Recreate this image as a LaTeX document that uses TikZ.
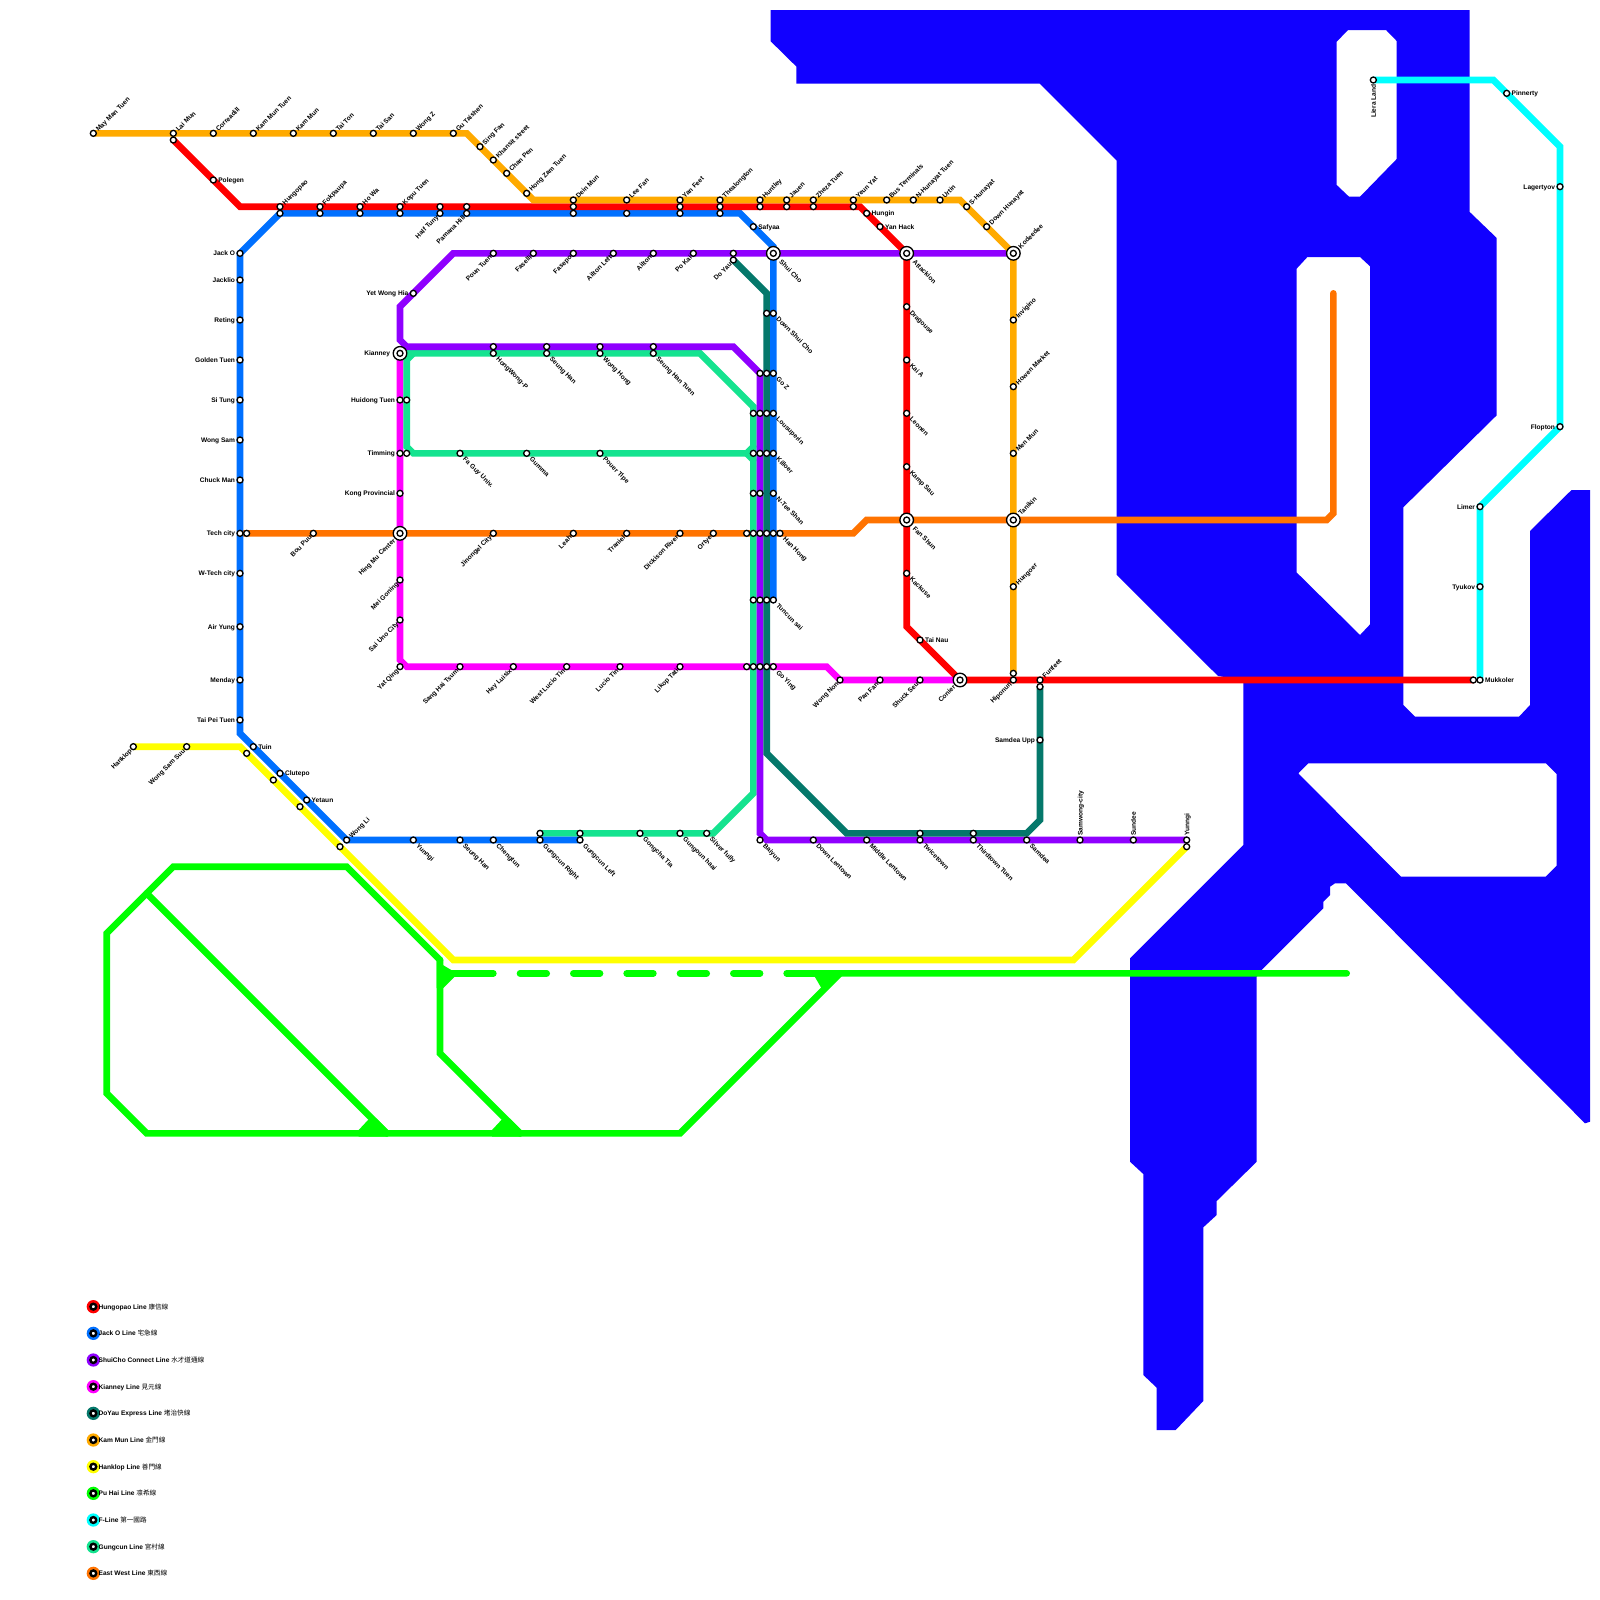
\documentclass[tikz,border=0pt]{standalone}
\usepackage{fontspec}
\setmainfont{Liberation Sans}
\newfontfamily\cjk{Noto Sans CJK TC}
\pgfdeclarelayer{bg}
\pgfsetlayers{bg,main}
\definecolor{cRed}{HTML}{FF0000}
\definecolor{cBlue}{HTML}{0070FF}
\definecolor{cPurple}{HTML}{8F00FF}
\definecolor{cMag}{HTML}{FF00FF}
\definecolor{cTeal}{HTML}{05786B}
\definecolor{cGold}{HTML}{FFAA00}
\definecolor{cYel}{HTML}{FFFF00}
\definecolor{cGrn}{HTML}{00FF00}
\definecolor{cCyan}{HTML}{00FFFF}
\definecolor{cMint}{HTML}{14E38F}
\definecolor{cOrg}{HTML}{FF7300}
\definecolor{cWater}{HTML}{1100FF}
\tikzset{
 stdot/.style={circle,draw=black,fill=white,line width=1.33pt,inner sep=0pt,outer sep=0pt,minimum size=6pt},
 xring/.style={circle,draw=black,fill=white,line width=1.33pt,inner sep=0pt,outer sep=0pt,minimum size=13.6pt},
 lbase/.style={inner sep=0pt,outer sep=0pt,text=black,font=\fontsize{6.6}{7}\selectfont\bfseries},
 lblne/.style={xshift=3.3pt,yshift=3.3pt,rotate=45,lbase,anchor=mid west},
 lblse/.style={xshift=4.5pt,yshift=-4.5pt,rotate=-45,lbase,anchor=mid west},
 lblsw/.style={xshift=-2.9pt,yshift=-2.9pt,rotate=45,lbase,anchor=mid east},
 lble/.style={xshift=5pt,lbase,anchor=mid west},
 lblw/.style={xshift=-5pt,lbase,anchor=mid east},
 lbln/.style={yshift=4.5pt,rotate=90,lbase,anchor=mid west},
 lbls/.style={yshift=-4.5pt,rotate=90,lbase,anchor=mid east},
 lblneI/.style={xshift=6pt,yshift=6pt,rotate=45,lbase,anchor=mid west},
 lblseI/.style={xshift=7.5pt,yshift=-7.5pt,rotate=-45,lbase,anchor=mid west},
 lblswI/.style={xshift=-6pt,yshift=-6pt,rotate=45,lbase,anchor=mid east},
 lblwI/.style={xshift=-10pt,lbase,anchor=mid east},
 mline/.style={line width=6.67pt,line cap=round,line join=miter},
 legdisc/.style={circle,inner sep=0pt,outer sep=0pt,minimum size=13.3pt},
 legdot/.style={circle,draw=black,fill=white,line width=2.4pt,inner sep=0pt,outer sep=0pt,minimum size=5.8pt},
 legtext/.style={lbase,anchor=mid west}
}
\newcommand{\stn}[5]{\node[stdot] (#1) at (#2,#3) {}; \node[lbl#4] (#1L) at (#1.center) {#5};}
\newcommand{\sta}[3]{\node[stdot] (#1) at (#2,#3) {};}
\newcommand{\xch}[5]{\node[xring] (#1X) at (#2,#3) {}; \node[stdot] (#1) at (#2,#3) {}; \node[lbl#4I] (#1L) at (#1.center) {#5};}
\newcommand{\lgd}[5]{\node[legdisc,fill=#3] (#1D) at (7,#2) {}; \node[legdot] (#1O) at (7,#2) {}; \node[legtext] (#1T) at (7.4,#2) {#4 {\cjk\mdseries #5}};}
\begin{document}
\begin{tikzpicture}[x=13.3333pt,y=-13.3333pt]
\useasboundingbox (0,0) rectangle (120,120);
% gold
\stn{g1}{7}{10}{ne}{May Man Tuen}
\stn{g2}{13}{10}{ne}{Lai Mun}
\stn{g3}{16}{10}{ne}{Correadill}
\stn{g4}{19}{10}{ne}{Kam Mun Tuen}
\stn{g5}{22}{10}{ne}{Kam Mun}
\stn{g6}{25}{10}{ne}{Tai Ton}
\stn{g7}{28}{10}{ne}{Tai San}
\stn{g8}{31}{10}{ne}{Wong Z}
\stn{g9}{34}{10}{ne}{Gu Taishen}
\stn{g10}{36}{11}{ne}{Sing Fan}
\stn{g11}{37}{12}{ne}{Khansit street}
\stn{g12}{38}{13}{ne}{Chan Pen}
\stn{g13}{39.5}{14.5}{ne}{Hong Zam Tuen}
\stn{g14}{43}{15}{ne}{Dein Mun}
\stn{g15}{47}{15}{ne}{Lee Fan}
\stn{g16}{51}{15}{ne}{Yan Feet}
\stn{g17}{54}{15}{ne}{Thealongton}
\stn{g18}{57}{15}{ne}{Huntley}
\stn{g19}{59}{15}{ne}{Jauen}
\stn{g20}{61}{15}{ne}{Zheza Tuen}
\stn{g21}{64}{15}{ne}{Yeun Yat}
\stn{g22}{66.5}{15}{ne}{Bus Terminals}
\stn{g23}{68.5}{15}{ne}{N-Hunayat Tuen}
\stn{g24}{70.5}{15}{ne}{Urtin}
\stn{g25}{72.5}{15.5}{ne}{S-Hunayat}
\stn{g26}{74}{17}{ne}{Down Hunayat}
\xch{kode}{76}{19}{ne}{Kodeedee}
\stn{g27}{76}{24}{ne}{Invigino}
\stn{g28}{76}{29}{ne}{Howen Market}
\stn{g29}{76}{34}{ne}{Men Mun}
\xch{tani}{76}{39}{ne}{Tanikin}
\stn{g30}{76}{44}{ne}{Hungoer}
\sta{g31}{76}{50.5}
% red
\sta{r1}{13}{10.5}
\stn{r2}{16}{13.5}{e}{Polegen}
\stn{r3}{21}{15.5}{ne}{Hungopao}
\stn{r4}{24}{15.5}{ne}{Fokpaupa}
\stn{r5}{27}{15.5}{ne}{Ho Wa}
\stn{r6}{30}{15.5}{ne}{Kopu Tuen}
\sta{r7}{33}{15.5}
\sta{r8}{35}{15.5}
\sta{r9}{43}{15.5}
\sta{r10}{51}{15.5}
\sta{r11}{54}{15.5}
\sta{r12}{57}{15.5}
\sta{r13}{59}{15.5}
\sta{r14}{61}{15.5}
\sta{r15}{64}{15.5}
\stn{r16}{65}{16}{e}{Hungin}
\stn{r17}{66}{17}{e}{Yan Hack}
\xch{atta}{68}{19}{se}{Attackion}
\stn{r18}{68}{23}{se}{Dragouse}
\stn{r19}{68}{27}{se}{Kai A}
\stn{r20}{68}{31}{se}{Leonen}
\stn{r21}{68}{35}{se}{Kamp Sau}
\xch{fans}{68}{39}{se}{Fan Shun}
\stn{r22}{68}{43}{se}{Kackuse}
\stn{r23}{69}{48}{e}{Tai Nau}
\xch{coni}{72}{51}{sw}{Conier}
\stn{r24}{76}{51}{sw}{Hiponuri}
\stn{r25}{78}{51}{ne}{Funfeet}
\sta{r26}{110.5}{51}
% blue
\sta{b1}{21}{16}
\sta{b2}{24}{16}
\sta{b3}{27}{16}
\sta{b4}{30}{16}
\stn{b5}{33}{16}{sw}{Half Tuny}
\stn{b6}{35}{16}{sw}{Pamana Hill}
\sta{b7}{43}{16}
\sta{b8}{47}{16}
\sta{b9}{51}{16}
\sta{b10}{54}{16}
\stn{b11}{56.5}{17}{e}{Safyaa}
\xch{shui}{58}{19}{se}{Shui Cho}
\stn{b12}{58}{23.5}{se}{Down Shui Cho}
\stn{b13}{58}{28}{se}{Go Z}
\stn{b14}{58}{31}{se}{Lousuperin}
\stn{b15}{58}{34}{se}{Killoer}
\stn{b16}{58}{37}{se}{N-Tee Shan}
\sta{b17}{58}{40}
\stn{b18}{58}{45}{se}{Tuncun sai}
\stn{j1}{18}{19}{w}{Jack O}
\stn{j2}{18}{21}{w}{Jacklio}
\stn{j3}{18}{24}{w}{Reting}
\stn{j4}{18}{27}{w}{Golden Tuen}
\stn{j5}{18}{30}{w}{Si Tung}
\stn{j6}{18}{33}{w}{Wong Sam}
\stn{j7}{18}{36}{w}{Chuck Man}
\stn{j8}{18}{40}{w}{Tech city}
\stn{j9}{18}{43}{w}{W-Tech city}
\stn{j10}{18}{47}{w}{Air Yung}
\stn{j11}{18}{51}{w}{Menday}
\stn{j12}{18}{54}{w}{Tai Pei Tuen}
\stn{j13}{19}{56}{e}{Tuin}
\stn{j14}{21}{58}{e}{Clutepo}
\stn{j15}{23}{60}{e}{Yetaun}
\stn{j16}{26}{63}{ne}{Wong Li}
\stn{j17}{31}{63}{se}{Yunngi}
\stn{j18}{34.5}{63}{se}{Seung Han}
\stn{j19}{37}{63}{se}{Chengtun}
\stn{j20}{40.5}{63}{se}{Gungcun Right}
\stn{j21}{43.5}{63}{se}{Gungcun Left}
% mint
\sta{m1}{40.5}{62.5}
\sta{m2}{43.5}{62.5}
\stn{m3}{48}{62.5}{se}{Gongcha Tia}
\stn{m4}{51}{62.5}{se}{Gungoun haai}
\stn{m5}{53}{62.5}{se}{Silver fully}
\sta{m6}{30.5}{30}
\sta{m7}{30.5}{34}
\stn{m8}{34.5}{34}{se}{Fa Guy Univ.}
\stn{m9}{39.5}{34}{se}{Gumma}
\stn{m10}{45}{34}{se}{Pouer Tipe}
\sta{m11}{56.5}{31}
\sta{m12}{56.5}{34}
\sta{m13}{56.5}{37}
\sta{m14}{56.5}{40}
\sta{m15}{56.5}{45}
\sta{m16}{56.5}{50}
\sta{m17}{37}{26.5}
\sta{m18}{41}{26.5}
\sta{m19}{45}{26.5}
\sta{m20}{49}{26.5}
% purple
\stn{p1}{31}{22}{w}{Yet Wong Hia}
\stn{p2}{37}{19}{sw}{Poun Tuen}
\stn{p3}{40}{19}{sw}{Faselli}
\stn{p4}{43}{19}{sw}{Fasepo}
\stn{p5}{46}{19}{sw}{Ailton Left}
\stn{p6}{49}{19}{sw}{Ailton}
\stn{p7}{52}{19}{sw}{Po Kai}
\sta{p8}{55}{19}
\sta{p9}{37}{26}
\sta{p10}{41}{26}
\sta{p11}{45}{26}
\sta{p12}{49}{26}
\sta{p13}{57}{28}
\sta{p14}{57}{31}
\sta{p15}{57}{34}
\sta{p16}{57}{37}
\sta{p17}{57}{40}
\sta{p18}{57}{45}
\sta{p19}{57}{50}
\stn{p20}{57}{63}{se}{Baiyun}
\stn{p21}{61}{63}{se}{Down Lentown}
\stn{p22}{65}{63}{se}{Middle Lentown}
\stn{p23}{69}{63}{se}{Twicetown}
\stn{p24}{73}{63}{se}{Thirdtown Tuen}
\stn{p25}{77}{63}{se}{Samdea}
\stn{p26}{81}{63}{n}{Samwong-city}
\stn{p27}{85}{63}{n}{Sundee}
\stn{p28}{89}{63}{n}{Yunngi}
% labels that belong to the double stops
\node[lblse] (hwL) at (m17.center) {HongWong-P};
\node[lblse] (shL) at (m18.center) {Seung Han};
\node[lblse] (whL) at (m19.center) {Wong Hong};
\node[lblse] (stL) at (m20.center) {Seung Han Tuen};
% teal
\stn{t1}{55}{19.5}{sw}{Do Yau}
\sta{t2}{57.5}{23.5}
\sta{t3}{57.5}{28}
\sta{t4}{57.5}{31}
\sta{t5}{57.5}{34}
\sta{t6}{57.5}{40}
\sta{t7}{57.5}{45}
\sta{t8}{57.5}{50}
\sta{t9}{69}{62.5}
\sta{t10}{73}{62.5}
\stn{t11}{78}{55.5}{w}{Samdea Upp}
\sta{t12}{78}{51.5}
% magenta
\xch{kian}{30}{26.5}{w}{Kianney}
\stn{k1}{30}{30}{w}{Huidong Tuen}
\stn{k2}{30}{34}{w}{Timming}
\stn{k3}{30}{37}{w}{Kong Provincial}
\xch{hing}{30}{40}{sw}{Hing Mu Center}
\stn{k4}{30}{43.5}{sw}{Mei Goning}
\stn{k5}{30}{46.5}{sw}{Sai Uno City}
\stn{k6}{30}{50}{sw}{Yat Qing}
\stn{k7}{34.5}{50}{sw}{Sang Hai Tsum}
\stn{k8}{38.5}{50}{sw}{Hey Luisix}
\stn{k9}{42.5}{50}{sw}{West Lucio Tin}
\stn{k10}{46.5}{50}{sw}{Lucio Tin}
\stn{k11}{51}{50}{sw}{Likop Tati}
\sta{k12}{56}{50}
\stn{k13}{58}{50}{se}{Go Ying}
\stn{k14}{63}{51}{sw}{Wong Non}
\stn{k15}{66}{51}{sw}{Pan Fan}
\stn{k16}{69}{51}{sw}{Shuck Seu}
% east west
\sta{o1}{18.5}{40}
\stn{o2}{23.5}{40}{sw}{Bou Puu}
\stn{o3}{37}{40}{sw}{Jinongel City}
\stn{o4}{43}{40}{sw}{Leah}
\stn{o5}{47}{40}{sw}{Traniel}
\stn{o6}{51}{40}{sw}{Dickison River}
\stn{o7}{53.5}{40}{sw}{Ortye}
\sta{o8}{56}{40}
\stn{o9}{58.5}{40}{se}{Han Hong}
% yellow
\stn{y1}{10}{56}{sw}{Hanklop}
\stn{y2}{14}{56}{sw}{Wong Sam Suu}
\sta{y3}{18.5}{56.5}
\sta{y4}{20.5}{58.5}
\sta{y5}{22.5}{60.5}
\sta{y6}{25.5}{63.5}
\sta{y7}{89}{63.5}
% cyan
\stn{c1}{103}{6}{s}{Liera Land}
\stn{c2}{113}{7}{e}{Pinnerty}
\stn{c3}{117}{14}{w}{Lagertyov}
\stn{c4}{117}{32}{w}{Flopton}
\stn{c5}{111}{38}{w}{Limer}
\stn{c6}{111}{44}{w}{Tyukov}
\stn{c7}{111}{51}{e}{Mukkoler}
% legend
\lgd{la}{98}{cRed}{Hungopao Line}{康信線}
\lgd{lb}{100}{cBlue}{Jack O Line}{宅急線}
\lgd{lc}{102}{cPurple}{ShuiCho Connect Line}{水才道通線}
\lgd{ld}{104}{cMag}{Kianney Line}{見元線}
\lgd{le}{106}{cTeal}{DoYau Express Line}{堵治快線}
\lgd{lf}{108}{cGold}{Kam Mun Line}{金門線}
\lgd{lg}{110}{cYel}{Hanklop Line}{善門線}
\lgd{lh}{112}{cGrn}{Pu Hai Line}{凛希線}
\lgd{li}{114}{cCyan}{F-Line}{第一國路}
\lgd{lj}{116}{cMint}{Gungcun Line}{宮村線}
\lgd{lk}{118}{cOrg}{East West Line}{東西線}
% bends and free ends
\coordinate (gb1) at (35,10);
\coordinate (gb2) at (40,15);
\coordinate (gb3) at (72,15);
\coordinate (rb1) at (18,15.5);
\coordinate (rb2) at (64.5,15.5);
\coordinate (rb3) at (68,47);
\coordinate (bb1) at (55.5,16);
\coordinate (bb2) at (58,18.5);
\coordinate (bb3) at (18,55);
\coordinate (pb1) at (34,19);
\coordinate (pb2) at (30,23);
\coordinate (pb3) at (30,25.5);
\coordinate (pb4) at (30.5,26);
\coordinate (pb5) at (55,26);
\coordinate (pb6) at (57,62.5);
\coordinate (pb7) at (57.5,63);
\coordinate (mb1) at (52.5,26.5);
\coordinate (mb2) at (56.5,30.5);
\coordinate (mb3) at (56.5,59.5);
\coordinate (mb4) at (53.5,62.5);
\coordinate (mb5) at (31,26.5);
\coordinate (mb6) at (30.5,27);
\coordinate (mb7) at (30.5,33.5);
\coordinate (mb8) at (31,34);
\coordinate (mb9) at (56,34);
\coordinate (mb10) at (56.5,33.5);
\coordinate (mb11) at (56.5,34.5);
\coordinate (tb1) at (57.5,22);
\coordinate (tb2) at (57.5,56.5);
\coordinate (tb3) at (63.5,62.5);
\coordinate (tb4) at (77,62.5);
\coordinate (tb5) at (78,61.5);
\coordinate (kb1) at (30,49.5);
\coordinate (kb2) at (30.5,50);
\coordinate (kb3) at (62,50);
\coordinate (ob1) at (64,40);
\coordinate (ob2) at (65,39);
\coordinate (ob3) at (99.5,39);
\coordinate (ob4) at (100,38.5);
\coordinate (ob5) at (100,22);
\coordinate (yb1) at (18,56);
\coordinate (yb2) at (34,72);
\coordinate (yb3) at (80.5,72);
\coordinate (cb1) at (112,6);
\coordinate (cb2) at (117,11);
\coordinate (hb1) at (8,70);
\coordinate (hb2) at (13,65);
\coordinate (hb3) at (26,65);
\coordinate (hb4) at (33,72);
\coordinate (hb5) at (33,79);
\coordinate (hb6) at (39,85);
\coordinate (hb7) at (11,85);
\coordinate (hb8) at (8,82);
\coordinate (hb9) at (11,67);
\coordinate (hb10) at (29,85);
\coordinate (hb11) at (51,85);
\coordinate (hb12) at (63,73);
\coordinate (hb13) at (101,73);
\coordinate (hb14) at (33.5,73);
\coordinate (hb15) at (35,73);
\coordinate (hb16) at (59,73);
\begin{pgfonlayer}{bg}
\fill[white] (0,0) rectangle (120,120);
% water
\begin{scope}[x=1pt,y=-1pt]
\fill[cWater,even odd rule]
 (770.7,10) -- (770.7,41.3) -- (796.4,66.6) -- (796.4,83.6) -- (1039.6,83.6) -- (1116.7,160.7)
 -- (1116.7,574.8) -- (1218,676) -- (1243.3,680) -- (1243.3,845) -- (1130,958.3) -- (1130,1161.7)
 -- (1143.3,1174) -- (1143.3,1375) -- (1156.7,1387.7) -- (1156.7,1430) -- (1175.7,1430)
 -- (1203.3,1401) -- (1203.3,1227.3) -- (1216.7,1215) -- (1216.7,1201) -- (1256.7,1161.7)
 -- (1256.7,976.7) -- (1261.7,970) -- (1323.3,908.3) -- (1323.3,901.7) -- (1330,895) -- (1330,886.7)
 -- (1335,883.3) -- (1346,883.3) -- (1585,1123.3) -- (1590,1121.7) -- (1590,490) -- (1571.5,490)
 -- (1530,531) -- (1530,705) -- (1519,716.7) -- (1415,716.7) -- (1403.3,705) -- (1403.3,507.3)
 -- (1496.5,415.5) -- (1496.5,237.8) -- (1469.7,212) -- (1469.7,10) -- cycle
 (1336.7,41.7) -- (1348,30) -- (1386,30) -- (1396.7,41) -- (1396.7,159) -- (1360,196.7) -- (1349,196.7) -- (1336.7,185) -- cycle
 (1296.7,268.6) -- (1307.4,257) -- (1360,257) -- (1370,266.3) -- (1370,624.4) -- (1360,635) -- (1296.7,572.5) -- cycle
 (1298.3,773.3) -- (1308.3,763.3) -- (1546,763.3) -- (1556.7,774) -- (1556.7,865.7) -- (1545.7,876.7) -- (1401,876.7) -- cycle;
\end{scope}
% lines
\draw[mline,cOrg] (j8.center) -- (ob1) -- (ob2) -- (ob3) -- (ob4) -- (ob5);
\draw[mline,cMag] (kian.center) -- (kb1) -- (kb2) -- (kb3) -- (k14.center) -- (coni.center);
\draw[mline,cMint] (kian.center) -- (mb1) -- (mb2) -- (mb3) -- (mb4) -- (m1.center);
\draw[mline,cMint] (mb5) -- (mb6) -- (mb7) -- (mb8) -- (mb9) -- (mb10);
\draw[mline,cMint] (mb9) -- (mb11);
\draw[mline,cPurple] (kode.center) -- (pb1) -- (pb2) -- (pb3) -- (pb4) -- (pb5) -- (p13.center) -- (pb6) -- (pb7) -- (p28.center);
\draw[mline,cTeal] (t1.center) -- (tb1) -- (tb2) -- (tb3) -- (tb4) -- (tb5) -- (t12.center);
\draw[mline,cBlue] (j21.center) -- (j16.center) -- (bb3) -- (j1.center) -- (b1.center) -- (bb1) -- (bb2) -- (b18.center);
\draw[mline,cRed] (r1.center) -- (rb1) -- (rb2) -- (atta.center) -- (rb3) -- (coni.center) -- (r26.center);
\draw[mline,cGold] (g1.center) -- (gb1) -- (gb2) -- (gb3) -- (kode.center) -- (g31.center);
\draw[mline,cYel] (y1.center) -- (yb1) -- (yb2) -- (yb3) -- (y7.center);
\draw[mline,cCyan] (c1.center) -- (cb1) -- (cb2) -- (c4.center) -- (c5.center) -- (c7.center);
% Pu Hai
\draw[mline,cGrn] (hb4) -- (hb3) -- (hb2) -- (hb1) -- (hb8) -- (hb7) -- (hb11) -- (hb12) -- (hb13);
\draw[mline,cGrn] (hb9) -- (hb10);
\draw[mline,cGrn] (hb4) -- (hb5) -- (hb6);
\draw[mline,cGrn] (hb14) -- (hb15);
\draw[mline,cGrn] (hb16) -- (hb12);
\draw[line width=6.67pt,line cap=round,cGrn,dash pattern=on 26.67pt off 26.67pt] (hb15) -- (hb16);
\fill[cGrn] (32.75,72.1) -- (34.1,72.9) -- (34.1,73.25) -- (33.25,74.1) -- (32.75,74.1) -- cycle;
\fill[cGrn] (60.9,72.9) -- (63.3,72.9) -- (62,74.25) -- (61.6,74.1) -- cycle;
\fill[cGrn] (36.9,84.75) -- (37.6,84) -- (38.25,83.9) -- (39.1,84.75) -- (39.1,85.25) -- (36.9,85.25) -- cycle;
\fill[cGrn] (26.9,84.75) -- (27.6,84) -- (28.25,83.9) -- (29.1,84.75) -- (29.1,85.25) -- (26.9,85.25) -- cycle;
\end{pgfonlayer}
\end{tikzpicture}
\end{document}
